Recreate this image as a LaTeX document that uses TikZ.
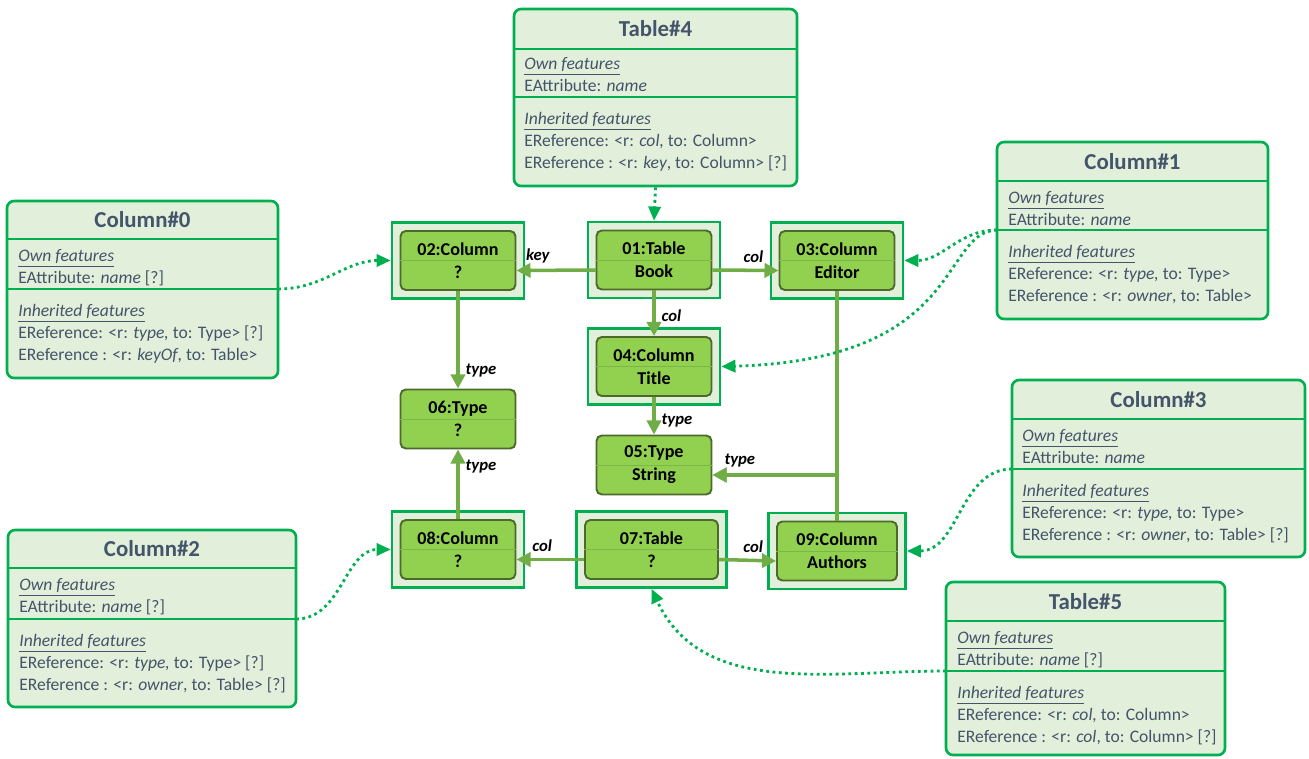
\documentclass[tikz,border=0pt]{standalone}
\usepackage{fontspec}
\setmainfont{Carlito}
\usepackage{tikz}
\usetikzlibrary{arrows.meta,fit,backgrounds}

\definecolor{boxfill}{HTML}{E2EFDA}
\definecolor{boxgreen}{HTML}{00B050}
\definecolor{slate}{HTML}{44546A}
\definecolor{objfill}{HTML}{92D050}
\definecolor{objdark}{HTML}{4B6A2C}
\definecolor{objline}{HTML}{7AB648}
\definecolor{relgreen}{HTML}{70AD47}

\tikzset{
  featbox/.style={draw=boxgreen, fill=boxfill, line width=1.5pt, rounded corners=4pt, inner sep=0pt},
  featsep/.style={draw=boxgreen, line width=1.5pt},
  boxtitle/.style={font=\fontsize{13}{15}\selectfont\bfseries, text=slate},
  feattext/.style={font=\fontsize{10}{12.4}\selectfont, text=slate, align=left, anchor=north west, inner sep=0pt},
  objbox/.style={draw=objdark, fill=objfill, rounded corners=3pt, line width=1.1pt,
    minimum width=2.3cm, minimum height=1.18cm, align=center,
    font=\fontsize{10.3}{13}\selectfont\bfseries, inner sep=0pt},
  objframe/.style={draw=boxgreen, fill=boxfill, line width=1.6pt, inner sep=0.15cm},
  objsep/.style={draw=objline, line width=0.5pt},
  rel/.style={draw=relgreen, line width=2pt, -{Triangle[length=8pt,width=8pt]}},
  lbl/.style={font=\fontsize{9.5}{11}\selectfont\bfseries\itshape, text=black},
  conf/.style={draw=boxgreen, line width=1.6pt, dotted, -{Triangle[length=8pt,width=7pt]}}
}

\begin{document}
\begin{tikzpicture}[x=0.02cm,y=0.02cm]
  \useasboundingbox (0,0) rectangle (1309,-758);

  % ---------- Feature boxes ----------
  \foreach \nm/\xa/\ya/\xb/\yb/\sa/\sb/\ttl in {
    t4/514/9/797/186/49/97/Table\#4, c0/7/201/278/378/239/289/Column\#0,
    c1/997/142/1268/319/181/230/Column\#1, c3/1012/380/1305/557/419/469/Column\#3,
    c2/8/530/296/707/568/619/Column\#2, t5/946/582/1225/755/621/671/Table\#5
  }{
    \node[featbox, fit={(\xa,-\ya) (\xb,-\yb)}] (\nm) {};
    \draw[featsep] (\xa,-\sa) -- (\xb,-\sa);
    \draw[featsep] (\xa,-\sb) -- (\xb,-\sb);
    \coordinate (\nm-w) at (\xa,-\sb);
    \coordinate (\nm-e) at (\xb,-\sb);
    \node[boxtitle] (\nm-title) at ({(\xa+\xb)/2},{-(\ya+\sa)/2}) {\ttl};
  }

  % Table#4
  \node[feattext] (t4-own) at (524,-57) {\underline{\textit{Own features}}\\EAttribute: \textit{name}};
  \node[feattext] (t4-inh) at (524,-112) {\underline{\textit{Inherited features}}\\EReference: <r: \textit{col,} to: Column>\\EReference : <r: \textit{key}, to: Column> [?]};
  % Column#0
  \node[feattext] (c0-own) at (18,-249) {\underline{\textit{Own features}}\\EAttribute: \textit{name} [?]};
  \node[feattext] (c0-inh) at (18,-304) {\underline{\textit{Inherited features}}\\EReference: <r: \textit{type,} to: Type> [?]\\EReference : <r: \textit{keyOf}, to: Table>};
  % Column#1
  \node[feattext] (c1-own) at (1008,-191) {\underline{\textit{Own features}}\\EAttribute: \textit{name}};
  \node[feattext] (c1-inh) at (1008,-245) {\underline{\textit{Inherited features}}\\EReference: <r: \textit{type,} to: Type>\\EReference : <r: \textit{owner}, to: Table>};
  % Column#3
  \node[feattext] (c3-own) at (1022,-429) {\underline{\textit{Own features}}\\EAttribute: \textit{name}};
  \node[feattext] (c3-inh) at (1022,-484) {\underline{\textit{Inherited features}}\\EReference: <r: \textit{type,} to: Type>\\EReference : <r: \textit{owner}, to: Table> [?]};
  % Column#2
  \node[feattext] (c2-own) at (19,-578) {\underline{\textit{Own features}}\\EAttribute: \textit{name} [?]};
  \node[feattext] (c2-inh) at (19,-634) {\underline{\textit{Inherited features}}\\EReference: <r: \textit{type,} to: Type> [?]\\EReference : <r: \textit{owner}, to: Table> [?]};
  % Table#5
  \node[feattext] (t5-own) at (957,-631) {\underline{\textit{Own features}}\\EAttribute: \textit{name} [?]};
  \node[feattext] (t5-inh) at (957,-686) {\underline{\textit{Inherited features}}\\EReference: <r: \textit{col,} to: Column>\\EReference : <r: \textit{col}, to: Column> [?]};

  % ---------- Object nodes ----------
  \node[objbox] (n01) at (654,-260) {01:Table\\Book};
  \node[objbox] (n02) at (458,-260.5) {02:Column\\?};
  \node[objbox] (n03) at (837,-260.5) {03:Column\\Editor};
  \node[objbox] (n04) at (654,-366.5) {04:Column\\Title};
  \node[objbox] (n05) at (654,-465) {05:Type\\String};
  \node[objbox] (n06) at (458,-419) {06:Type\\?};
  \node[objbox, minimum width=2.66cm] (n07) at (651.5,-549.5) {07:Table\\?};
  \node[objbox] (n08) at (458,-549.5) {08:Column\\?};
  \node[objbox, minimum width=2.4cm] (n09) at (837,-551) {09:Column\\Authors};
  \foreach \n in {01,02,03,04,05,06,07,08,09}
    \draw[objsep] (n\n.west) -- (n\n.east);

  % Frames behind the matched objects
  \begin{scope}[on background layer]
    \foreach \n in {01,02,03,04,07,08,09}
      \node[objframe, fit=(n\n)] (f\n) {};
  \end{scope}

  % ---------- References ----------
  \draw[rel] ([yshift=-0.2cm]n01.west) -- node[lbl, pos=0.73, above] {key} ([yshift=-0.2cm]n02.east);
  \draw[rel] ([yshift=-0.2cm]n01.east) -- node[lbl, pos=0.62, above] {col} ([yshift=-0.2cm]n03.west);
  \draw[rel] (n01.south) -- node[lbl, pos=0.56, right] {col} (n04.north);
  \draw[rel] (n02.south) -- node[lbl, pos=0.82, right] {type} (n06.north);
  \draw[rel] (n04.south) -- node[lbl, pos=0.62, right] {type} (n05.north);
  \draw[rel] (n08.north) -- node[lbl, pos=0.76, right] {type} (n06.south);
  \draw[rel] ([yshift=-0.2cm]n07.west) -- node[lbl, pos=0.62, above] {col} ([yshift=-0.2cm]n08.east);
  \draw[rel] ([yshift=-0.2cm]n07.east) -- node[lbl, pos=0.6, above] {col} ([yshift=-0.2cm]n09.west);
  \draw[rel] (n03.south) |- node[lbl, pos=0.89, above] {type} ([yshift=-0.2cm]n05.east);
  \draw[rel] (n09.north) |- ([yshift=-0.2cm]n05.east);

  % ---------- Conformance links ----------
  \draw[conf] (t4.south) -- (f01.north);
  \draw[conf] (c0-e) to[out=0,in=180] (f02.west);
  \draw[conf] (c1-w) to[out=180,in=0] (f03.east);
  \draw[conf] (c1-w) .. controls (940,-232) and (965,-360) .. (f04.east);
  \draw[conf] (c3-w) to[out=180,in=0] (f09.east);
  \draw[conf] (c2-e) to[out=0,in=180] (f08.west);
  \draw[conf] (t5-w) to[out=180,in=-65] (f07.south);
\end{tikzpicture}
\end{document}
